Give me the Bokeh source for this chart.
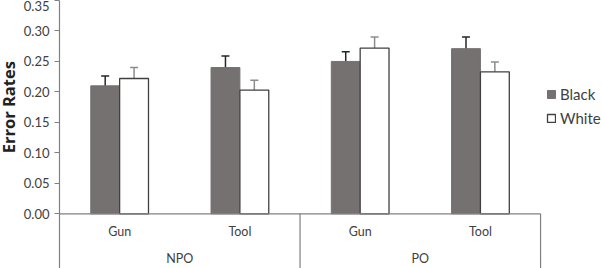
import math
from bokeh.plotting import figure
from bokeh.layouts import row
from bokeh.models import (Range1d, FixedTicker, NumeralTickFormatter, ColumnDataSource,
                          Whisker, TeeHead, Legend, LegendItem)
from bokeh.core.properties import value
from bokeh.embed import file_html
from bokeh.resources import INLINE

# Error rates by prime condition and target type
conditions = ["NPO", "PO"]
targets = ["Gun", "Tool"]
black = [0.210, 0.240, 0.250, 0.271]
white = [0.222, 0.203, 0.272, 0.233]
black_err = [0.016, 0.019, 0.016, 0.019]
white_err = [0.018, 0.016, 0.018, 0.016]
y_ticks = [0.00, 0.05, 0.10, 0.15, 0.20, 0.25, 0.30, 0.35]
y_title = "Error Rates"

FONT = "Lato"
AXIS = "#808080"
TEXT = "#404040"
BAR_GRAY = "#757171"

n = len(conditions) * len(targets)
centers = [i + 0.5 for i in range(n)]
offset = 0.12
bar_w = 0.24
y_bottom = -0.0897
x_end = 4.515
y_range = Range1d(y_bottom, y_ticks[-1])

p = figure(width=582, height=268, x_range=Range1d(0, x_end), y_range=y_range,
           x_axis_type=None, output_backend="svg", toolbar_location=None,
           min_border_left=39, min_border_right=0, min_border_top=0, min_border_bottom=0)
p.grid.visible = False
p.outline_line_color = None
p.background_fill_color = "white"

yaxis = p.yaxis[0]
yaxis.ticker = FixedTicker(ticks=y_ticks)
yaxis.formatter = NumeralTickFormatter(format="0.00")
yaxis.axis_line_color = AXIS
yaxis.axis_line_width = 1.2
yaxis.major_tick_line_color = AXIS
yaxis.major_tick_in = 0
yaxis.major_tick_out = 5
yaxis.minor_tick_line_color = None
yaxis.major_label_standoff = 5
yaxis.major_label_text_font = FONT
yaxis.major_label_text_font_size = "13px"
yaxis.major_label_text_color = TEXT

# narrow strip holding the y-axis title, centred on the 0 to 0.35 value span
t = figure(width=20, height=268, x_range=Range1d(0, 1), y_range=y_range,
           x_axis_type=None, y_axis_type=None, output_backend="svg", toolbar_location=None,
           min_border=0)
t.grid.visible = False
t.outline_line_color = None
t.text(x=[0.40], y=[(y_ticks[0] + y_ticks[-1]) / 2], text=[y_title], angle=math.pi / 2,
       text_align="center", text_baseline="middle", text_font=value("Open Sans"),
       text_font_size="16.5px", text_font_style="bold", text_color="#222222")

bsrc = ColumnDataSource(dict(x=[c - offset for c in centers], top=black,
                             lo=[v - e for v, e in zip(black, black_err)],
                             hi=[v + e for v, e in zip(black, black_err)]))
wsrc = ColumnDataSource(dict(x=[c + offset for c in centers], top=white,
                             lo=[v - e for v, e in zip(white, white_err)],
                             hi=[v + e for v, e in zip(white, white_err)]))

rb = p.vbar(x="x", top="top", bottom=0, width=bar_w, source=bsrc,
            fill_color=BAR_GRAY, line_color=BAR_GRAY, line_width=1)
rw = p.vbar(x="x", top="top", bottom=0, width=bar_w, source=wsrc,
            fill_color="white", line_color="#404040", line_width=1.3)

for src, col in ((bsrc, "#262626"), (wsrc, "#8c8c8c")):
    p.add_layout(Whisker(base="x", lower="lo", upper="hi", source=src,
                         line_color=col, line_width=1.5,
                         upper_head=TeeHead(size=8, line_color=col, line_width=1.5),
                         lower_head=TeeHead(size=8, line_color=col, line_width=1.5)))

# category axis: baseline and group separators
p.segment(x0=[0], y0=[0], x1=[n], y1=[0], line_color=AXIS, line_width=1.2)
group_edges = [len(targets) * (g + 1) for g in range(len(conditions))]
p.segment(x0=group_edges, y0=[0] * len(group_edges), x1=group_edges,
          y1=[y_bottom] * len(group_edges), line_color=AXIS, line_width=1.2)

sub_labels = targets * len(conditions)
p.text(x=centers, y=[-0.029] * n, text=sub_labels, text_font=value(FONT),
       text_font_size="12.5px", text_color=TEXT, text_align="center", text_baseline="middle")
group_centers = [len(targets) * g + len(targets) / 2 for g in range(len(conditions))]
p.text(x=group_centers, y=[-0.0733] * len(conditions), text=conditions, text_font=value(FONT),
       text_font_size="12.5px", text_color=TEXT, text_align="center", text_baseline="middle")

legend = Legend(items=[LegendItem(label="Black", renderers=[rb]),
                       LegendItem(label="White", renderers=[rw])],
                location=(487, 141), padding=0, margin=0, spacing=6,
                glyph_width=10, glyph_height=10, label_height=10, label_standoff=4,
                label_text_font=FONT, label_text_font_size="15px", label_text_color=TEXT,
                border_line_color=None, background_fill_alpha=0)
p.add_layout(legend)

layout = row(t, p, spacing=0)
open("out.html", "w").write(file_html(layout, INLINE))
